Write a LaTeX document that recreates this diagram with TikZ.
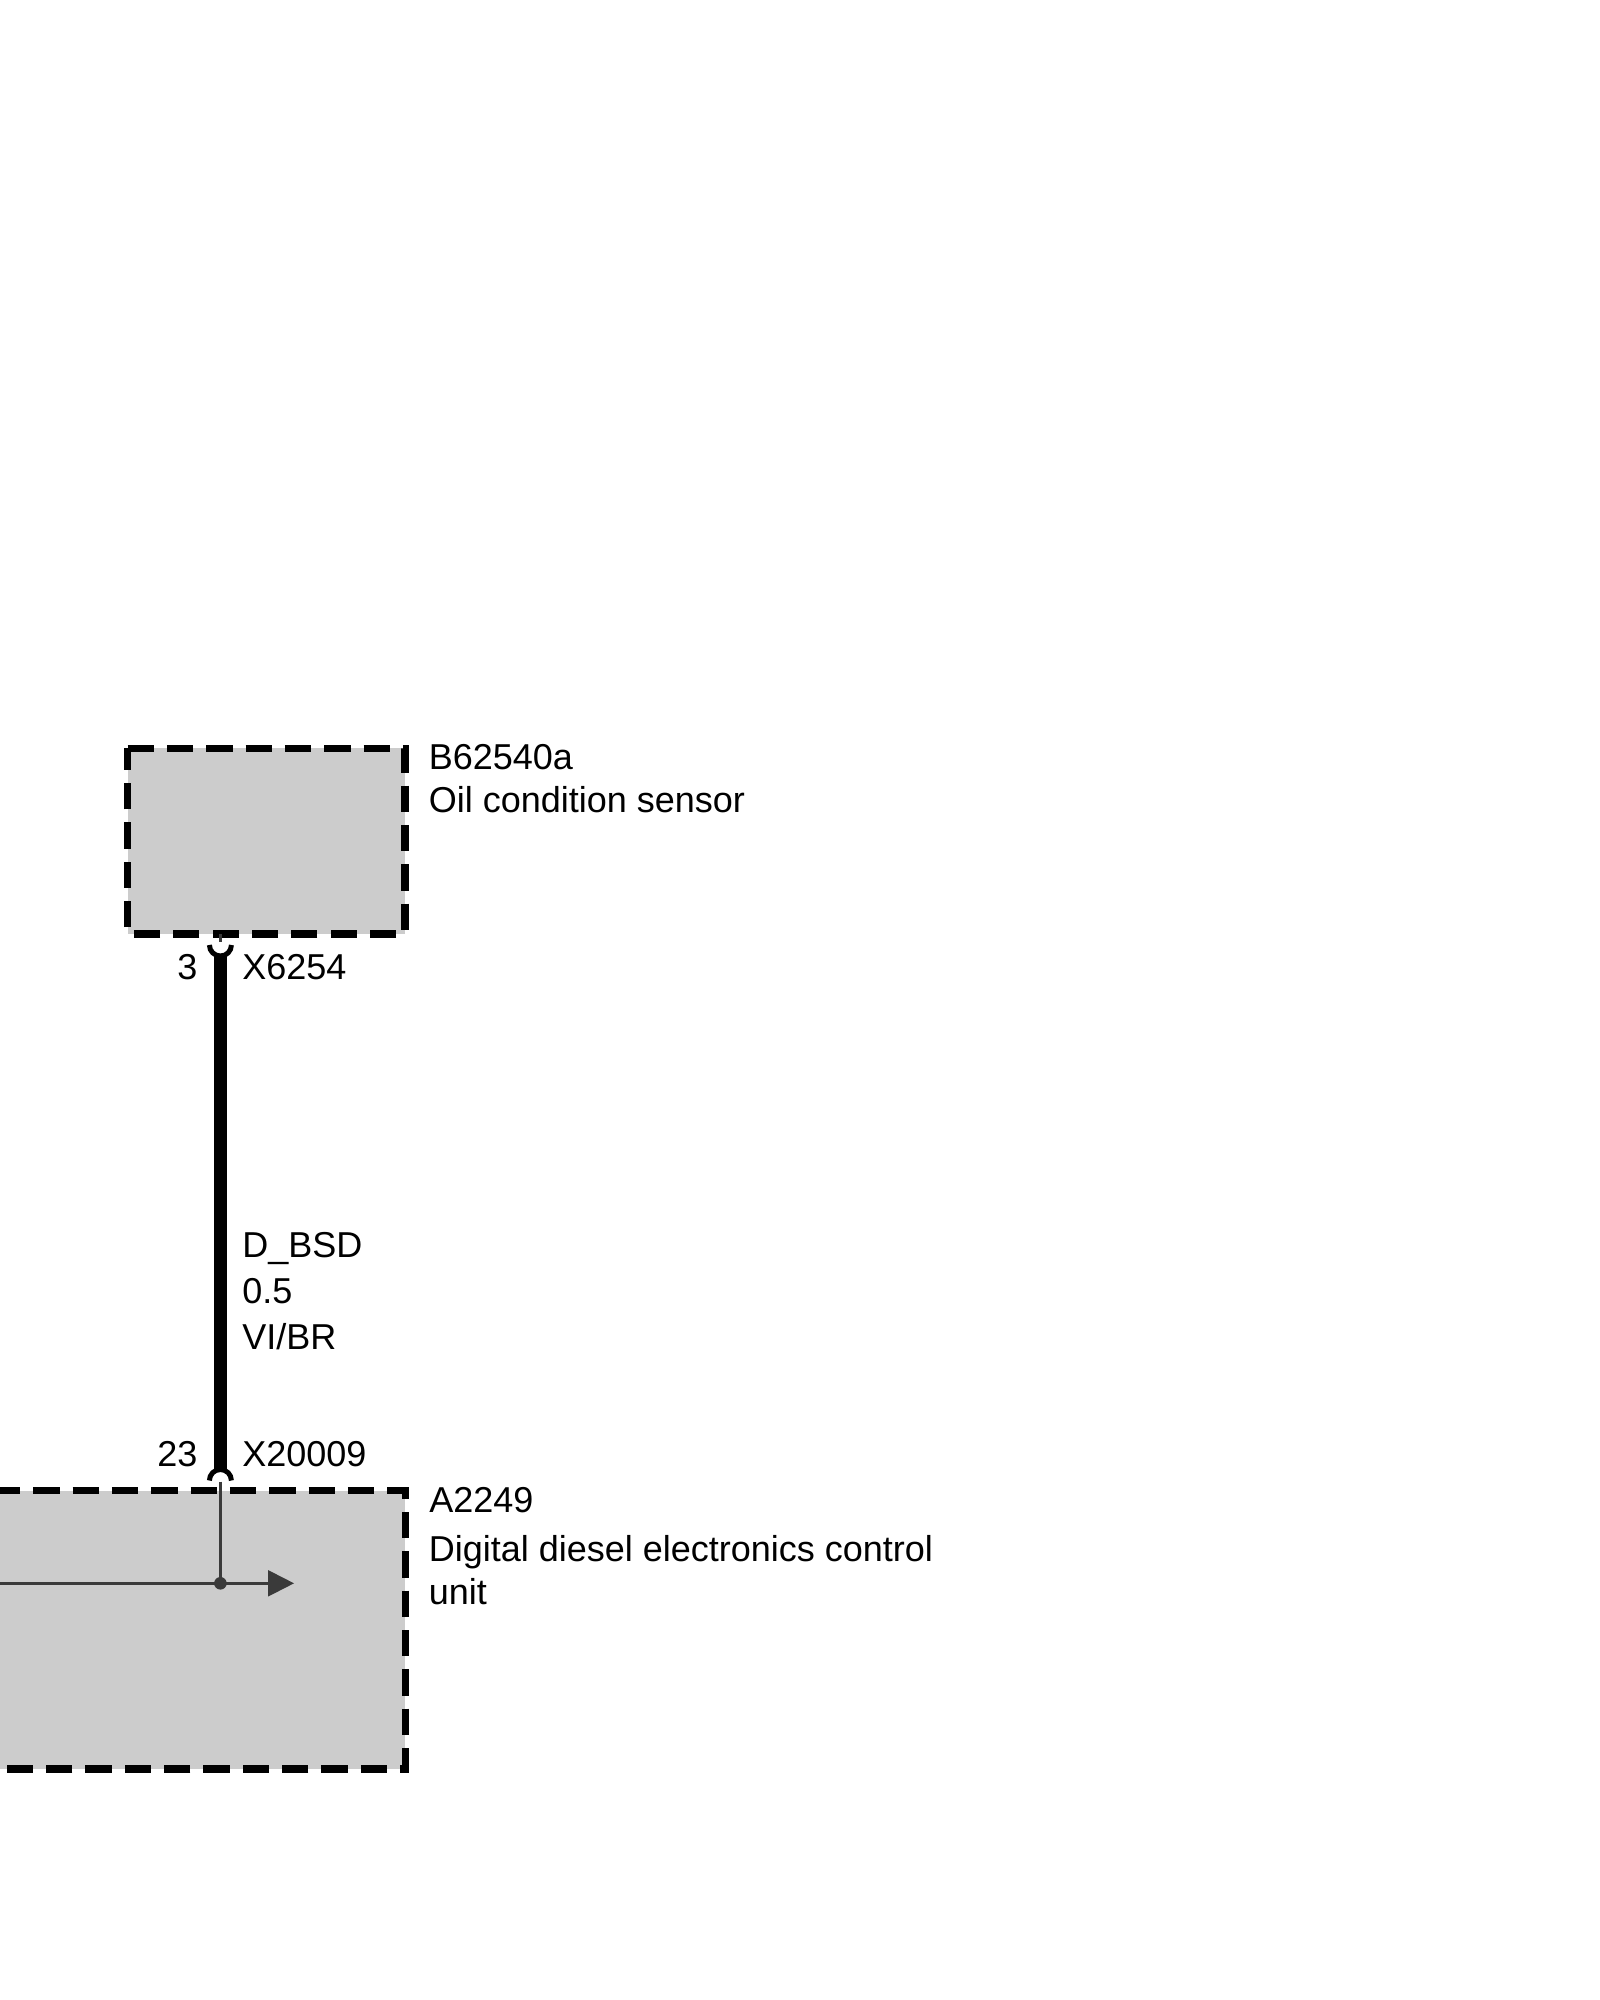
\documentclass[tikz,border=0pt]{standalone}
\usepackage{fontspec}
\setmainfont{Liberation Sans}
\usetikzlibrary{arrows.meta}
\definecolor{boxgray}{HTML}{CCCCCC}
\definecolor{signal}{HTML}{3A3A3A}
\tikzset{
  unitbox/.style={fill=boxgray,draw=black,line width=7.4pt,miter limit=10,line join=miter,dash pattern=on 26.3pt off 13.03pt},
  lbl/.style={inner sep=0pt,outer sep=0pt,font=\fontsize{36pt}{40pt}\selectfont,text=black},
  lblw/.style={lbl,anchor=base west},
  lble/.style={lbl,anchor=base east},
  wire/.style={draw=black,line width=13.5pt},
  pin/.style={draw=black,line width=5pt},
  thin/.style={draw=signal,line width=3.3pt}
}
\begin{document}
\begin{tikzpicture}[x=1pt,y=-1pt]
\useasboundingbox[fill=white] (0,0) rectangle (1600,2000);
% upper unit
\path[unitbox] (127.6,748.3) -- (405,748.3) -- (405,934) -- (127.6,934) -- cycle;
% lower unit (runs off the left edge)
\begin{scope}
\clip (0,0) rectangle (1600,2000);
\path[unitbox] (-6,1490.7) -- (405.3,1490.7) -- (405.3,1769) -- (-6,1769);
\end{scope}
\coordinate (upin) at (220.4,945);
\coordinate (lpin) at (220.4,1480.5);
\coordinate (ustub) at (220.4,934);
\coordinate (lstub) at (220.4,1481.7);
% wire
\draw[wire] ([yshift=-11pt]upin) -- ([yshift=11pt]lpin);
\draw[pin] ([xshift=-11pt]upin) arc[start angle=180,end angle=360,radius=11pt];
\draw[pin] ([xshift=-11pt]lpin) arc[start angle=180,end angle=0,radius=11pt];
\draw[thin] (ustub) -- (220.4,942);
% internal signal
\coordinate (junction) at (220.4,1583.3);
\coordinate (sigstart) at (0,1583.3);
\coordinate (sigend) at (270,1583.3);
\coordinate (tip) at (294,1583.3);
\draw[thin] (lstub) -- (junction);
\draw[thin] (sigstart) -- (sigend);
\fill[signal] (268,1570) -- (tip) -- (268,1596.6) -- cycle;
\fill[signal] (junction) circle[radius=6.3pt];
% labels
\node[lblw] (n1) at (428.8,769.3) {B62540a};
\node[lblw] (n2) at (428.8,812.3) {Oil condition sensor};
\node[lble] (n3) at (197.3,979.3) {3};
\node[lblw] (n4) at (242.3,979.3) {X6254};
\node[lblw] (n5) at (242.3,1257) {D\_BSD};
\node[lblw] (n6) at (242.3,1303.2) {0.5};
\node[lblw] (n7) at (242.3,1349.4) {VI/BR};
\node[lble] (n8) at (197.3,1466) {23};
\node[lblw] (n9) at (242.3,1466) {X20009};
\node[lblw] (n10) at (429.3,1512) {A2249};
\node[lblw] (n11) at (428.8,1561.7) {Digital diesel electronics control};
\node[lblw] (n12) at (428.8,1604) {unit};
\end{tikzpicture}
\end{document}
